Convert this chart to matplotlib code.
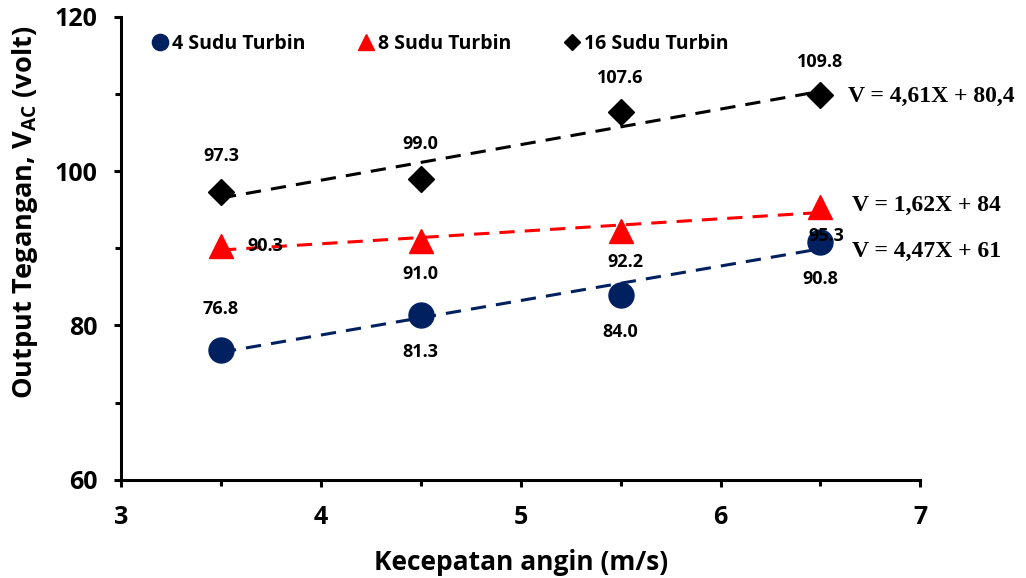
import numpy as np
import matplotlib
matplotlib.use('Agg')
import matplotlib.pyplot as plt
from matplotlib.ticker import MultipleLocator

plt.rcParams['font.family'] = ['Open Sans', 'DejaVu Sans']
plt.rcParams['font.weight'] = 'bold'
plt.rcParams['mathtext.fontset'] = 'custom'
plt.rcParams['mathtext.rm'] = 'Open Sans:bold'
plt.rcParams['mathtext.bf'] = 'Open Sans:bold'

# data
kecepatan = [3.5, 4.5, 5.5, 6.5]
sudu4 = [76.8, 81.3, 84.0, 90.8]
sudu8 = [90.3, 91.0, 92.2, 95.3]
sudu16 = [97.3, 99.0, 107.6, 109.8]
persamaan = ['V = 4,47X + 61', 'V = 1,62X + 84', 'V = 4,61X + 80,4']

# label offsets in pixels (dx, dy)
off4 = [(0, 41), (0, -37), (0, -37), (0, -37)]
off8 = [(44, 0), (0, -33), (5, -31), (6, -29)]
off16 = [(0, 36), (0, 35), (0, 34), (0, 33)]

navy = '#002060'
red = '#ff0000'

fig = plt.figure(figsize=(10.26, 5.78), dpi=100)
ax = fig.add_axes([0.118, 0.170, 0.779, 0.801])

series = [
    (sudu4, '4 Sudu Turbin', navy, 'o', 18, off4),
    (sudu8, '8 Sudu Turbin', red, '^', 17, off8),
    (sudu16, '16 Sudu Turbin', 'black', 'D', 13, off16),
]

x = np.array(kecepatan)
for vals, lab, col, mk, ms, offs in series:
    ax.plot(kecepatan, vals, linestyle='none', marker=mk, color=col,
            markersize=ms, label=lab, zorder=3)
    # linear trend line
    k, c = np.polyfit(x, vals, 1)
    ax.plot(x, k * x + c, linestyle=(0, (5, 3.3)), color=col, lw=2.2, zorder=2)
    for xi, yi, (dx, dy) in zip(kecepatan, vals, offs):
        ax.annotate(f'{yi:.1f}', (xi, yi), xytext=(dx, dy),
                    textcoords='offset pixels', ha='center', va='center',
                    fontsize=13, fontweight='bold', zorder=4)

# trend equations
eq_pos = [(6.66, 89.6), (6.66, 95.5), (6.64, 109.7)]
for (ex, ey), txt in zip(eq_pos, persamaan):
    ax.text(ex, ey, txt, family='Liberation Serif', fontweight='bold',
            fontsize=17, va='center', ha='left')

ax.set_xlim(3, 7)
ax.set_ylim(60, 120)
ax.xaxis.set_major_locator(MultipleLocator(1))
ax.xaxis.set_minor_locator(MultipleLocator(0.5))
ax.yaxis.set_major_locator(MultipleLocator(20))
ax.yaxis.set_minor_locator(MultipleLocator(10))
ax.spines['top'].set_visible(False)
ax.spines['right'].set_visible(False)
for s in ('left', 'bottom'):
    ax.spines[s].set_linewidth(2.2)
ax.tick_params(which='major', direction='out', length=5, width=2.2,
               labelsize=18)
ax.tick_params(axis='x', which='major', pad=13)
ax.tick_params(axis='y', which='major', pad=12)
ax.tick_params(which='minor', direction='out', length=4, width=2.2)
for t in ax.get_xticklabels() + ax.get_yticklabels():
    t.set_fontweight('bold')

ax.set_xlabel('Kecepatan angin (m/s)', fontsize=19, fontweight='bold', labelpad=14)
ax.set_ylabel(r'Output Tegangan, V$_{\mathrm{AC}}$ (volt)', fontsize=19.5,
              fontweight='bold')
ax.yaxis.set_label_coords(-0.101, 0.577)

ax.legend(loc='upper left', bbox_to_anchor=(0.017, 1.0), ncol=3, frameon=False,
          markerscale=0.65, handlelength=0.8, handletextpad=0.2,
          columnspacing=2.75, prop={'size': 14, 'weight': 'bold'})

fig.savefig('out.png', dpi=100)
